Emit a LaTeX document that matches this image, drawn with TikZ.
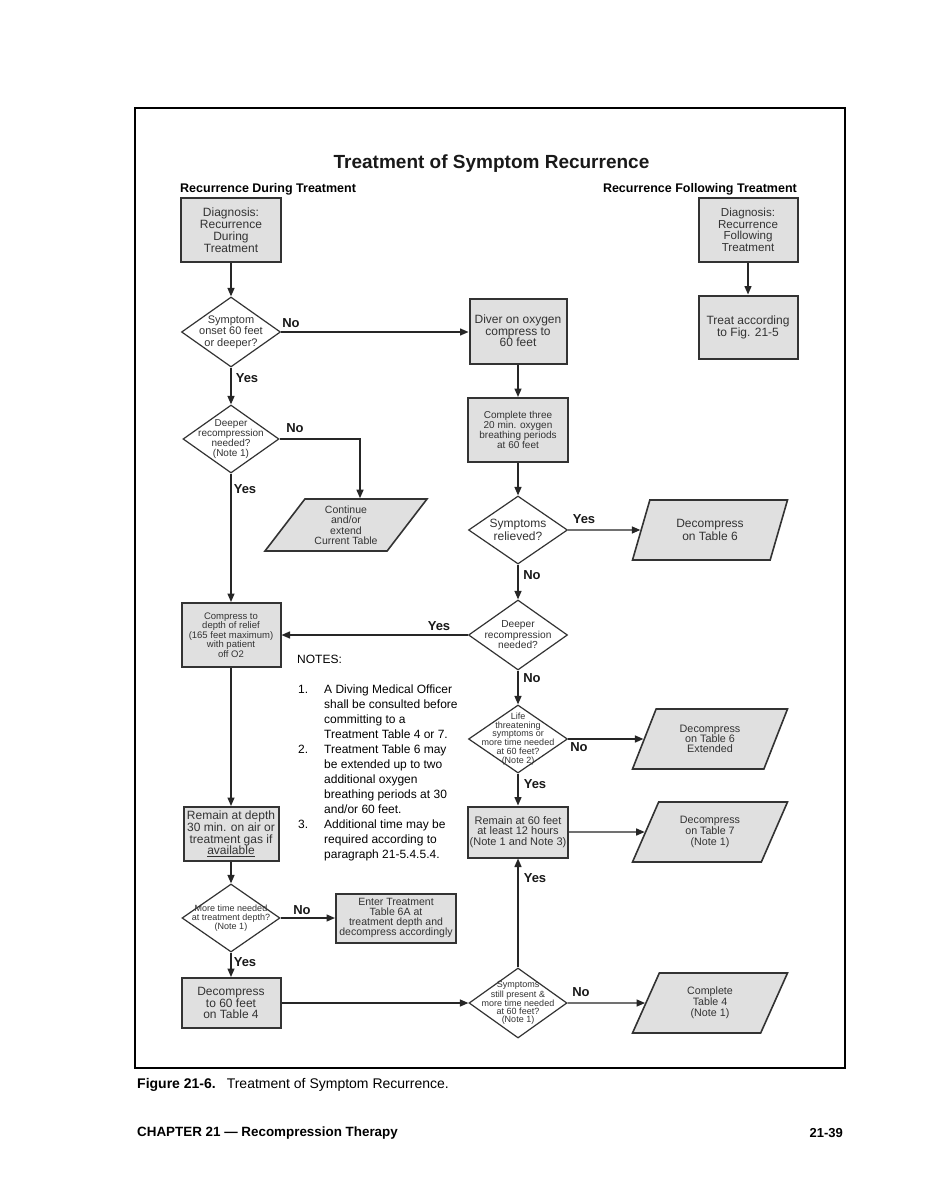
\documentclass[tikz,border=0pt]{standalone}
\usepackage{fontspec}
\setmainfont{Liberation Sans}
\usetikzlibrary{arrows.meta,shapes.geometric}
\newcommand\myfs[2]{\fontsize{#1}{#2}\selectfont}
\begin{document}
\begin{tikzpicture}[x=1pt,y=-1pt,
  box/.style={rectangle,draw=black!80,line width=2pt,fill=black!12,inner sep=0pt,align=center,text=black!80},
  dia/.style={diamond,draw=black!80,line width=1.2pt,fill=white,inner sep=0pt,minimum width=99pt,minimum height=69pt},
  dt/.style={align=center,text=black!80,inner sep=0pt},
  par/.style={trapezium,trapezium left angle=50,trapezium right angle=130,trapezium stretches body,draw=black!80,line width=1.6pt,fill=black!12,inner sep=0pt,minimum width=155pt,minimum height=60pt,align=center,text=black!80},
  arr/.style={draw=black!85,line width=1.4pt,-{Triangle[length=8.5pt,width=7pt]}},
  lab/.style={font=\bfseries\myfs{13}{13},inner sep=0pt,text=black!90},
]
\useasboundingbox (0,0) rectangle (926,1198);
\fill[white] (0,0) rectangle (926,1198);
\draw[line width=1.2pt,black] (135,108) rectangle (845,1068);

% headings
\node[font=\bfseries\myfs{19}{19},inner sep=0pt,anchor=base,text=black!90] (title) at (491.5,169) {Treatment of Symptom Recurrence};
\node[font=\bfseries\myfs{12.5}{12.5},anchor=base west,inner sep=0pt] (hl) at (180,193) {Recurrence During Treatment};
\node[font=\bfseries\myfs{12.5}{12.5},anchor=base east,inner sep=0pt] (hr) at (797,193) {Recurrence Following Treatment};

% left column
\node[box,minimum width=100pt,minimum height=64pt,font=\myfs{12}{12}] (D1) at (231,230) {Diagnosis:\\Recurrence\\During\\Treatment};
\node[dia,minimum width=99pt,minimum height=70pt,label={[dt,font=\myfs{11}{11.3}]center:{Symptom\\onset 60 feet\\or deeper?}}] (d1) at (231,332) {};
\node[dia,minimum width=96pt,minimum height=68pt,label={[dt,font=\myfs{10}{10}]center:{Deeper\\recompression\\needed?\\(Note 1)}}] (d2) at (231,439) {};
\node[par,trapezium left angle=44.5,trapezium right angle=135.5,minimum width=162pt,minimum height=52pt,font=\myfs{10.5}{10.5}] (p0) at (346,525) {Continue\\and/or\\extend\\Current Table};
\node[box,minimum width=99pt,minimum height=64pt,font=\myfs{9.5}{9.5}] (B2) at (231,635) {Compress to\\depth of relief\\(165 feet maximum)\\with patient\\off O2};
\node[box,minimum width=95pt,minimum height=54pt,font=\myfs{12}{11.7}] (B3) at (231,834) {Remain at depth\\30 min. on air or\\treatment gas if\\\underline{available}};
\node[dia,minimum width=98pt,minimum height=68pt,label={[dt,font=\myfs{9}{9}]center:{More time needed\\at treatment depth?\\(Note 1)}}] (d3) at (231,918) {};
\node[box,minimum width=120pt,minimum height=49pt,font=\myfs{10.5}{10}] (B4) at (396,918) {Enter Treatment\\Table 6A at\\treatment depth and\\decompress accordingly};
\node[box,minimum width=99pt,minimum height=50pt,font=\myfs{12}{11.7}] (B5) at (231,1003) {Decompress\\to 60 feet\\on Table 4};

% right column
\node[box,minimum width=97pt,minimum height=65pt,font=\myfs{12}{11.7}] (R1) at (518,331) {Diver on oxygen\\compress to\\60 feet};
\node[box,minimum width=100pt,minimum height=64pt,font=\myfs{10}{10}] (R2) at (518,430) {Complete three\\20 min. oxygen\\breathing periods\\at 60 feet};
\node[dia,minimum width=99pt,minimum height=68pt,label={[dt,font=\myfs{12}{12.3}]center:{Symptoms\\relieved?}}] (e1) at (518,530) {};
\node[par,font=\myfs{12}{12.3}] (P1) at (710,530) {Decompress\\on Table 6};
\node[dia,minimum width=99pt,minimum height=70pt,label={[dt,font=\myfs{10.2}{10.5}]center:{Deeper\\recompression\\needed?}}] (e2) at (518,635) {};
\node[dia,minimum width=99pt,minimum height=68pt,label={[dt,font=\myfs{9}{8.8}]center:{Life\\threatening\\symptoms or\\more time needed\\at 60 feet?\\(Note 2)}}] (e3) at (518,739) {};
\node[par,font=\myfs{10.8}{10.3}] (P2) at (710,739) {Decompress\\on Table 6\\Extended};
\node[box,minimum width=100pt,minimum height=51pt,font=\myfs{11}{10.3}] (R3) at (518,832) {Remain at 60 feet\\at least 12 hours\\(Note 1 and Note 3)};
\node[par,font=\myfs{10.7}{10.8}] (P3) at (710,832) {Decompress\\on Table 7\\(Note 1)};
\node[dia,minimum width=98pt,minimum height=70pt,label={[dt,font=\myfs{9}{8}]center:{Symptoms\\still present \&\\more time needed\\at 60 feet?\\(Note 1)}}] (e4) at (518,1003) {};
\node[par,font=\myfs{10.7}{11}] (P4) at (710,1003) {Complete\\Table 4\\(Note 1)};

% far right
\node[box,minimum width=99pt,minimum height=64pt,font=\myfs{11.6}{11.7}] (RD) at (748,230) {Diagnosis:\\Recurrence\\Following\\Treatment};
\node[box,minimum width=99pt,minimum height=63pt,font=\myfs{12}{12}] (RT) at (748,327) {Treat according\\to Fig. 21-5};

% connectors
\draw[arr] (D1) -- (d1);
\draw[arr] (d1.east) -- (d1.east -| R1.west);
\draw[arr] (d1) -- (d2);
\draw[arr] (d2.east) -| ([xshift=14pt]p0.north);
\draw[arr] (d2) -- (B2);
\draw[arr] (B2) -- (B3);
\draw[arr] (B3) -- (d3);
\draw[arr] (d3) -- (B4);
\draw[arr] (d3) -- (B5);
\draw[arr] (B5) -- (e4);
\draw[arr] (e2) -- (B2);
\draw[arr] (RD) -- (RT);
\draw[arr] (R1) -- (R2);
\draw[arr] (R2) -- (e1);
\draw[arr] (e1) -- (P1);
\draw[arr] (e1) -- (e2);
\draw[arr] (e2) -- (e3);
\draw[arr] (e3) -- (P2);
\draw[arr] (e3) -- (R3);
\draw[arr] (R3) -- (P3);
\draw[arr] (e4) -- (R3);
\draw[arr] (e4) -- (P4);

% connector labels
\node[lab] (l1) at (291,323) {No};
\node[lab] (l2) at (247,378) {Yes};
\node[lab] (l3) at (295,428) {No};
\node[lab] (l4) at (245,489) {Yes};
\node[lab] (l5) at (584,519) {Yes};
\node[lab] (l6) at (532,575) {No};
\node[lab] (l7) at (439,626) {Yes};
\node[lab] (l8) at (532,678) {No};
\node[lab] (l9) at (579,747) {No};
\node[lab] (l10) at (535,784) {Yes};
\node[lab] (l11) at (302,910) {No};
\node[lab] (l12) at (245,962) {Yes};
\node[lab] (l13) at (535,878) {Yes};
\node[lab] (l14) at (581,992) {No};

% notes
\node[anchor=north west,inner sep=0pt,align=left,font=\myfs{12}{15}] (notes) at (297,654.5) {NOTES:\\[15pt]
\hspace*{1pt}\makebox[26pt][l]{1.}A Diving Medical Officer\\
\hspace*{27pt}shall be consulted before\\
\hspace*{27pt}committing to a\\
\hspace*{27pt}Treatment Table 4 or 7.\\
\hspace*{1pt}\makebox[26pt][l]{2.}Treatment Table 6 may\\
\hspace*{27pt}be extended up to two\\
\hspace*{27pt}additional oxygen\\
\hspace*{27pt}breathing periods at 30\\
\hspace*{27pt}and/or 60 feet.\\
\hspace*{1pt}\makebox[26pt][l]{3.}Additional time may be\\
\hspace*{27pt}required according to\\
\hspace*{27pt}paragraph 21-5.4.5.4.};

% footer
\node[anchor=base west,inner sep=0pt,font=\myfs{14}{14}] (cap) at (137,1088) {\textbf{Figure 21-6.}\hspace*{11pt}Treatment of Symptom Recurrence.};
\node[anchor=base west,inner sep=0pt,font=\bfseries\myfs{13.4}{14}] (chap) at (137,1136) {CHAPTER 21 — Recompression Therapy};
\node[anchor=base east,inner sep=0pt,font=\bfseries\myfs{13}{14}] (pg) at (843,1137) {21-39};
\end{tikzpicture}
\end{document}
